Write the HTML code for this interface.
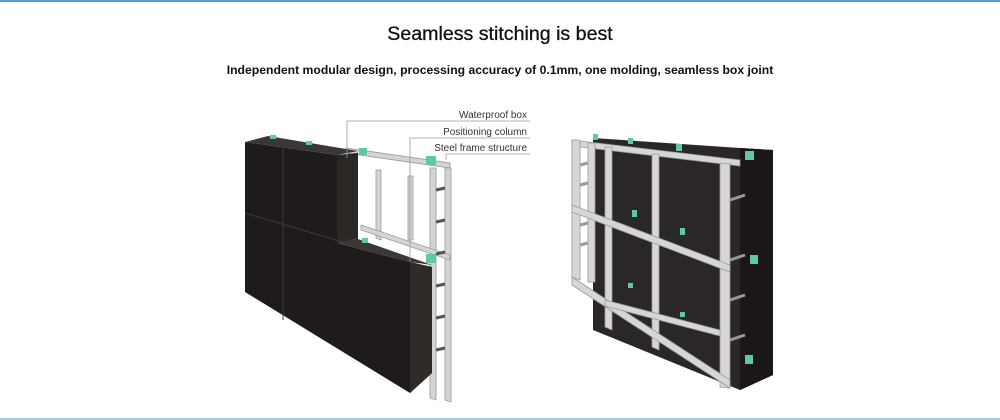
<!DOCTYPE html>
<html><head><style>
body{margin:0;width:1000px;height:420px;background:#fff;overflow:hidden;position:relative;font-family:"Liberation Sans",sans-serif}
.t{position:absolute;left:0;width:1000px;text-align:center;color:#111}
</style></head><body>
<div style="position:absolute;top:0;left:0;width:1000px;height:2px;background:#5b9bd5"></div>
<div style="position:absolute;top:418px;left:0;width:1000px;height:2px;background:#a8c8e8"></div>
<div class="t" style="top:23px;font-size:19.6px;-webkit-text-stroke:0.3px #111">Seamless stitching is best</div>
<div class="t" style="top:63px;font-size:12.2px;font-weight:bold">Independent modular design, processing accuracy of 0.1mm, one molding, seamless box joint</div>
<svg width="1000" height="420" style="position:absolute;left:0;top:0" font-family="Liberation Sans, sans-serif">
<g fill="#d4d4d4" stroke="#999" stroke-width="0.8">
<polygon points="346,148 450,163 450,168 346,153"/>
<polygon points="430,168 436,168 436,400 430,398"/>
<polygon points="445,168 451,168 451,402 445,400"/>
<polygon points="376,170 381,170 381,240 376,238"/>
<polygon points="408,176 413,176 413,240 408,240"/>
<polygon points="361,225 450,255 450,260 361,230"/>
</g>
<g stroke="#555" stroke-width="3">
<line x1="436" y1="190" x2="445" y2="188"/><line x1="436" y1="222" x2="445" y2="220"/>
<line x1="436" y1="254" x2="445" y2="252"/><line x1="436" y1="286" x2="445" y2="284"/>
<line x1="436" y1="318" x2="445" y2="316"/><line x1="436" y1="350" x2="445" y2="348"/>
</g>
<polygon points="245,142 337,155 358,153 358,240 337,243 410,262 432,267 432,373 410,393 245,292" fill="#1e1b1a"/>
<polygon points="337,155 358,153 358,240 337,243" fill="#2a2725"/>
<polygon points="410,262 432,267 432,373 410,393" fill="#2e2b29"/>
<polygon points="245,142 268,136 358,151 337,155" fill="#3a3735"/>
<polygon points="337,243 355,238 432,265 410,262" fill="#3a3735"/>
<line x1="245" y1="213" x2="410" y2="262" stroke="#3c3938" stroke-width="1"/>
<line x1="283" y1="148" x2="283" y2="320" stroke="#3c3938" stroke-width="1"/>
<g fill="#5fc9a0"><rect x="270" y="135" width="6" height="4"/><rect x="306" y="141" width="6" height="4"/><rect x="359" y="148" width="8" height="7"/><rect x="426" y="156" width="10" height="9"/><rect x="362" y="238" width="6" height="5"/><rect x="426" y="254" width="10" height="9"/></g>
<g font-size="10" fill="#333" text-anchor="end">
<text x="527" y="118">Waterproof box</text>
<text x="527" y="135">Positioning column</text>
<text x="527" y="151">Steel frame structure</text>
</g>
<g stroke="#999" stroke-width="0.8" fill="none">
<polyline points="530,121 347,121 347,158"/>
<polyline points="530,138 410,138 410,262"/>
<polyline points="530,154 446,154 446,160"/>
</g>
<polygon points="593,138 740,148 773,150 773,375 740,390 593,330" fill="#2b2726"/>
<polygon points="740,148 773,150 773,375 740,390" fill="#1a1716"/>
<g fill="#d6d6d6" stroke="#999" stroke-width="0.8">
<polygon points="572,140 740,160 740,166 572,146"/>
<polygon points="572,140 580,140 580,280 572,277"/>
<polygon points="588,143 595,143 595,282 588,282"/>
<polygon points="605,147 612,147 612,330 605,327"/>
<polygon points="652,154 659,154 659,350 652,347"/>
<polygon points="720,163 730,164 730,388 720,387"/>
<polygon points="572,205 730,265 730,272 572,212"/>
<polygon points="572,277 730,380 730,388 572,285"/>
<polygon points="605,300 720,330 720,336 605,306"/>
</g>
<g stroke="#999" stroke-width="3"><line x1="730" y1="200" x2="745" y2="195"/><line x1="730" y1="260" x2="745" y2="255"/><line x1="730" y1="300" x2="745" y2="295"/><line x1="730" y1="340" x2="745" y2="335"/>
<line x1="580" y1="165" x2="588" y2="163"/><line x1="580" y1="185" x2="588" y2="183"/><line x1="580" y1="225" x2="588" y2="223"/><line x1="580" y1="245" x2="588" y2="243"/></g>
<g fill="#5fc9a0"><rect x="593" y="134" width="5" height="6"/><rect x="628" y="138" width="5" height="6"/><rect x="676" y="144" width="6" height="7"/><rect x="745" y="151" width="9" height="9"/><rect x="632" y="210" width="5" height="7"/><rect x="680" y="228" width="5" height="7"/><rect x="750" y="255" width="8" height="9"/><rect x="628" y="283" width="5" height="5"/><rect x="680" y="312" width="5" height="5"/><rect x="745" y="355" width="8" height="9"/></g>
</svg>
</body></html>
